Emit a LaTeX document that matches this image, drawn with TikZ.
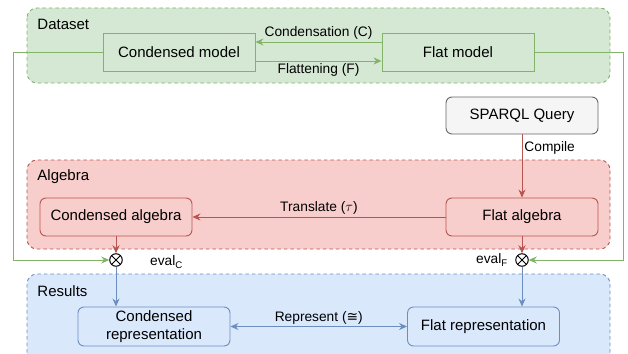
\documentclass[tikz,border=0pt]{standalone}
\usepackage{fontspec}
\setmainfont{Liberation Sans}
\newfontfamily\symfont{DejaVu Sans}
\usepackage{tikz}
\usetikzlibrary{arrows.meta, positioning}

\definecolor{dsfill}{HTML}{D5E8D4}
\definecolor{dsline}{HTML}{82B366}
\definecolor{alfill}{HTML}{F8CECC}
\definecolor{alline}{HTML}{B85450}
\definecolor{refill}{HTML}{DAE8FC}
\definecolor{reline}{HTML}{6C8EBF}
\definecolor{qfill}{HTML}{F5F5F5}
\definecolor{qline}{HTML}{666666}

\tikzset{
    region/.style={draw, rounded corners=10pt, dash pattern=on 3.5pt off 3pt},
    regionlabel/.style={anchor=west, inner sep=1pt, font=\fontsize{15}{18}\selectfont},
    box/.style={draw, minimum width=152pt, minimum height=38pt, inner sep=2pt,
        align=center, font=\fontsize{15}{18}\selectfont},
    mbox/.style={box, draw=dsline, fill=dsfill},
    abox/.style={box, rounded corners=6pt, draw=alline, fill=alfill},
    rbox/.style={box, rounded corners=6pt, draw=reline, fill=refill, minimum height=39pt},
    qbox/.style={box, rounded corners=6pt, draw=qline, fill=qfill, minimum height=37pt},
    lbl/.style={font=\fontsize{13.75}{16}\selectfont, inner sep=2pt},
    otimes/.style={circle, draw, fill=white, minimum size=12.5pt, inner sep=0pt, line width=1pt,
        path picture={\draw (path picture bounding box.north west) -- (path picture bounding box.south east)
            (path picture bounding box.north east) -- (path picture bounding box.south west);}},
}

\begin{document}
\begin{tikzpicture}[x=1pt, y=-1pt, line width=0.9pt, node distance=100pt,
        >={Stealth[length=8pt, width=7pt]}]
    \useasboundingbox (0,0) rectangle (628,353);

    % regions
    \draw[region, draw=dsline, fill=dsfill] (27,8) rectangle (610,83);
    \draw[region, draw=alline, fill=alfill] (27,160) rectangle (610,249);
    \draw[region, draw=reline, fill=refill] (27,274) rectangle (610,366);
    \node[regionlabel] (dataset) at (36,24) {Dataset};
    \node[regionlabel] (algebra) at (36,177) {Algebra};
    \node[regionlabel] (results) at (36,291) {Results};

    % nodes
    \node[mbox] (cm) at (179,52) {Condensed model};
    \node[mbox, right of=cm, xshift=179pt] (fm) {Flat model};
    \node[qbox] (sq) at (522,115.5) {SPARQL Query};
    \node[abox] (ca) at (116,217) {Condensed algebra};
    \node[abox, right of=ca, xshift=306pt] (fa) {Flat algebra};
    \node[otimes] (evc) at (116,260) {};
    \node[otimes] (evf) at (522,260) {};
    \node[lbl, right=25pt of evc, yshift=-2pt] (evclabel) {eval\textsubscript{C}};
    \node[lbl, left=5pt of evf] (evflabel) {eval\textsubscript{F}};
    \node[rbox] (cr) at (154,326.5) {Condensed\\representation};
    \node[rbox, right of=cr, xshift=229.5pt] (fr) {Flat representation};

    % edges
    \draw[->, dsline] ([yshift=10pt]fm.west) -- node[lbl, above, text=black] {Condensation (C)} ([yshift=10pt]cm.east);
    \draw[->, dsline] ([yshift=-9pt]cm.east) -- node[lbl, below, text=black] {Flattening (F)} ([yshift=-9pt]fm.west);
    \draw[->, dsline] (cm.west) -- ++(-89,0) |- (evc);
    \draw[->, dsline] (fm.east) -- ++(89,0) |- (evf);
    \draw[->, alline] (sq) -- node[lbl, right, pos=0.22, text=black] {Compile} (fa);
    \draw[->, alline] (fa) -- node[lbl, above, text=black] {Translate ($\tau$)} (ca);
    \draw[->, alline] (ca) -- (evc);
    \draw[->, alline] (fa) -- (evf);
    \draw[->, reline] (evc) -- (evc |- cr.north);
    \draw[->, reline] (evf) -- (evf |- fr.north);
    \draw[<->, reline] (cr) -- node[lbl, above, text=black] {Represent ({\symfont ≅})} (fr);
\end{tikzpicture}
\end{document}
